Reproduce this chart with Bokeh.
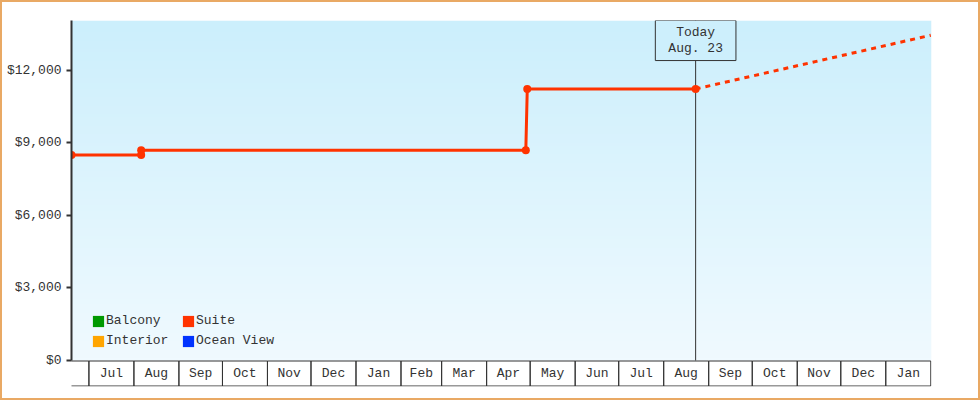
import numpy as np
import pandas as pd
from bokeh.plotting import figure
from bokeh.models import (Range1d, FixedTicker, NumeralTickFormatter, Label,
                          Legend, LegendItem, InlineStyleSheet)
from bokeh.core.properties import value
from bokeh.embed import file_html
from bokeh.resources import INLINE

FONT = "Liberation Mono"
TXT = "#333333"

# ---- data -------------------------------------------------------------
series_names = ["Balcony", "Interior", "Suite", "Ocean View"]
series_colors = ["#009900", "#ffa500", "#ff3300", "#0033ff"]

suite_dates = ["2012-06-19", "2012-08-06", "2012-08-06", "2013-04-28", "2013-04-29", "2013-08-23"]
suite_prices = [8499, 8499, 8699, 8699, 11229, 11229]

proj_dates = ["2013-08-23", "2014-02-01"]
proj_prices = [11229, 13450]

today_date = "2013-08-23"
today_text = "Today\nAug. 23"

y_ticks = [0, 3000, 6000, 9000, 12000]
month_labels = ["Jul", "Aug", "Sep", "Oct", "Nov", "Dec", "Jan", "Feb", "Mar", "Apr",
                "May", "Jun", "Jul", "Aug", "Sep", "Oct", "Nov", "Dec", "Jan"]

x_start = pd.Timestamp("2012-06-19")
x_end = pd.Timestamp("2014-02-01 12:00")
y_end = 14060
band_px = 26            # month band height under the value area (px)
plot_px = 340           # value area height (px)

# ---- figure -------------------------------------------------------------
y_start = -y_end * band_px / plot_px
p = figure(width=980, height=400,
           x_range=Range1d(x_start, x_end), y_range=Range1d(y_start, y_end),
           x_axis_type="datetime", x_axis_location=None,
           toolbar_location=None, output_backend="svg",
           min_border_left=71, min_border_right=49, min_border_top=20, min_border_bottom=14)
p.extra_y_ranges = {"band": Range1d(-band_px, plot_px)}
p.outline_line_color = None
p.xgrid.visible = False
p.ygrid.visible = False
p.background_fill_color = "white"
p.border_fill_color = "white"

# page border drawn over the canvas
p.stylesheets = [InlineStyleSheet(css=(
    ":host { position: relative; }\n"
    ":host::after { content: ''; position: absolute; left: 0; top: 0; "
    "width: 980px; height: 400px; box-sizing: border-box; "
    "border: 2px solid #e9a964; pointer-events: none; z-index: 100; }"
))]

# gradient background of the value area
top_c = np.array([204, 239, 252])
bot_c = np.array([240, 250, 255])
n = 120
t = np.linspace(0, 1, n)[:, None]
cols = (bot_c * (1 - t) + top_c * t).astype(np.uint8)
img = np.empty((n, 1), dtype=np.uint32)
view = img.view(dtype=np.uint8).reshape((n, 1, 4))
view[:, 0, 0] = cols[:, 0]
view[:, 0, 1] = cols[:, 1]
view[:, 0, 2] = cols[:, 2]
view[:, 0, 3] = 255
dw_ms = (x_end - x_start).total_seconds() * 1000.0
p.image_rgba(image=[img], x=x_start, y=0, dw=dw_ms, dh=y_end, level="image")

# y axis
yax = p.yaxis[0]
yax.bounds = (0, y_end)
yax.ticker = FixedTicker(ticks=y_ticks)
yax.formatter = NumeralTickFormatter(format="$0,0")
yax.axis_line_color = TXT
yax.axis_line_width = 2
yax.major_tick_line_color = TXT
yax.major_tick_line_width = 2
yax.major_tick_in = 0
yax.major_tick_out = 5
yax.minor_tick_line_color = None
yax.major_label_standoff = 5
yax.major_label_text_font = FONT
yax.major_label_text_font_size = "13px"
yax.major_label_text_color = TXT

# month band (x axis)
bounds = pd.date_range("2012-06-01", "2014-02-01", freq="MS")
p.quad(left=bounds[:-1], right=bounds[1:], bottom=-band_px + 0.5, top=-0.5,
       fill_color=None, line_color=TXT, line_width=1, y_range_name="band")
lab_left = bounds[1:-1]
lab_right = bounds[2:]
centers = lab_left + (lab_right - lab_left) / 2
p.text(x=centers, y=[-band_px / 2] * len(centers), text=month_labels,
       text_align="center", text_baseline="middle", y_range_name="band",
       text_font=value(FONT), text_font_size="13px", text_color=TXT)

# today line
td = pd.Timestamp(today_date)
p.segment(x0=[td], y0=[0], x1=[td], y1=[y_end], line_color=TXT, line_width=1)

# suite series
sd = pd.to_datetime(suite_dates)
pdts = pd.to_datetime(proj_dates)
p.line(pdts, proj_prices, line_color=series_colors[2], line_width=3, line_dash="5 5")
p.line(sd, suite_prices, line_color=series_colors[2], line_width=3)
p.scatter(sd, suite_prices, size=8, fill_color=series_colors[2], line_color=None)

# legend swatches (series without visible values)
items = []
for name, c in zip(series_names, series_colors):
    r = p.quad(left=[np.nan], right=[np.nan], top=[np.nan], bottom=[np.nan],
               fill_color=c, line_color=None)
    items.append(LegendItem(label=name, renderers=[r]))
legend = Legend(items=items, location=(20, 12 + band_px), nrows=2,
                glyph_width=14, glyph_height=14, label_height=14, label_width=70,
                label_standoff=1, spacing=5, padding=0, margin=0,
                border_line_color=None, background_fill_alpha=0,
                label_text_font=FONT, label_text_font_size="13px", label_text_color=TXT)
p.add_layout(legend, "center")

# today label box
p.add_layout(Label(x=td, y=y_end, text=today_text,
                   text_align="center", text_baseline="top", y_offset=0,
                   text_font=FONT, text_font_size="13px", text_color=TXT,
                   text_line_height=1.07,
                   padding=(13, 13, 4, 5),
                   background_fill_color="#cdeffc", background_fill_alpha=1,
                   border_line_color=TXT, border_line_width=1))

open("out.html", "w").write(file_html(p, INLINE))
